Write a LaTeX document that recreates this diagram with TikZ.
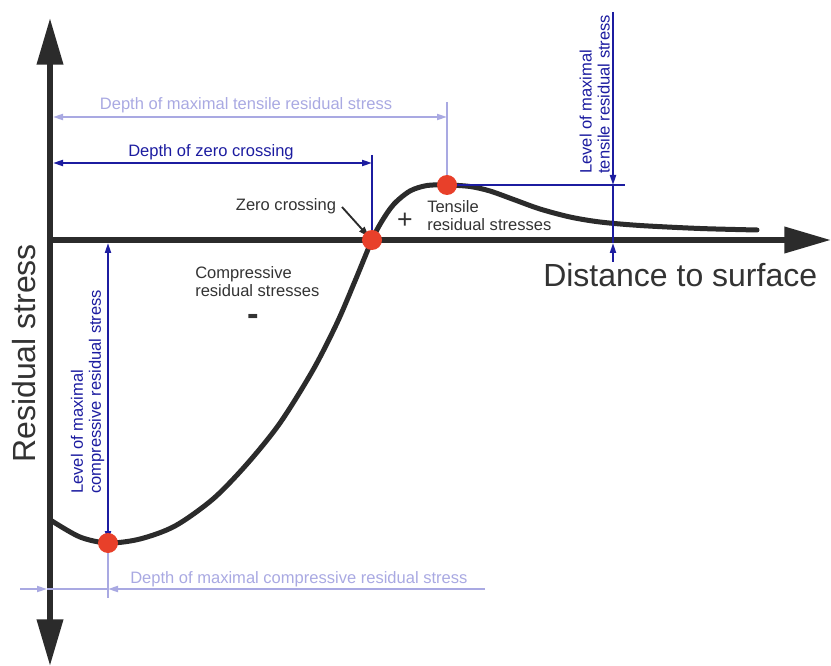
\documentclass[tikz,border=0pt]{standalone}
\usepackage{fontspec}
\setmainfont{Liberation Sans}
\usetikzlibrary{arrows.meta}

\definecolor{axisgray}{HTML}{2B2B2B}
\definecolor{textgray}{HTML}{333333}
\definecolor{dimblue}{HTML}{1C1CA0}
\definecolor{lightdim}{HTML}{A9A9E2}
\definecolor{dotred}{HTML}{E8402A}

\tikzset{
  bigtip/.tip={Triangle[length=35pt,width=19pt]},
  smalltip/.tip={Triangle[length=7.5pt,width=4.5pt]},
  axisline/.style={line width=4.5pt, draw=axisgray},
  curveline/.style={line width=3.75pt, draw=axisgray, line cap=round},
  dimline/.style={line width=1.4pt, draw=dimblue},
  lightline/.style={line width=1.4pt, draw=lightdim},
  lbl/.style={inner sep=0pt, text=textgray, font=\fontsize{12.4}{13.5}\selectfont},
  bluelbl/.style={lbl, text=dimblue},
  lightlbl/.style={lbl, text=lightdim},
  biglbl/.style={inner sep=0pt, text=textgray, font=\fontsize{24}{28}\selectfont},
  dot/.style={fill=dotred}
}

\begin{document}
\begin{tikzpicture}[x=0.75pt, y=-0.75pt]
    \useasboundingbox (0,0) rectangle (831,666);

    % Origine e punti notevoli
    \coordinate (O) at (50,240);
    \coordinate (zc) at (372,240);
    \coordinate (tmax) at (447,185);
    \coordinate (cmax) at (108,543);

    % Assi
    \draw[axisline, bigtip-bigtip] (50,666) -- (50,18);
    \draw[axisline, -bigtip] (47,240) -- (831,240);

    % Curva delle tensioni residue
    \draw[curveline] plot[smooth, tension=0.5] coordinates {
        (52,521) (80,537) (108,543) (140,539) (175,526) (213,499)
        (247,464) (280,423) (313,370) (337,323) (355,281) (372,240)
        (382,221) (394,204) (410,191) (427,185.5) (447,185) (470,186.5)
        (490,191) (515,200) (540,209) (570,217) (600,222) (640,225.5)
        (700,228.5) (757,230)};

    % Profondita della massima tensione di trazione
    \coordinate (ltA) at (53,117);
    \coordinate (ltB) at (447,117);
    \draw[lightline, smalltip-smalltip] (ltA) -- (ltB);
    \draw[lightline] (447,102) -- (tmax);
    \node[lightlbl, anchor=base] (ltlbl) at (246,110) {Depth of maximal tensile residual stress};

    % Profondita dello zero
    \coordinate (zA) at (53,163);
    \coordinate (zB) at (372,163);
    \draw[dimline, smalltip-smalltip] (zA) -- (zB);
    \draw[dimline] (372,155) -- (zc);
    \node[bluelbl, anchor=base] (zlbl) at (211,157) {Depth of zero crossing};

    % Livello della massima trazione
    \coordinate (tt) at (613,12);
    \coordinate (tl) at (613,185);
    \coordinate (tb) at (613,243);
    \coordinate (te) at (613,262);
    \draw[dimline] (tmax) -- (625,185);
    \draw[dimline, -smalltip] (tt) -- (tl);
    \draw[dimline] (tl) -- (tb);
    \draw[dimline, -smalltip] (te) -- (tb);
    \node[bluelbl, rotate=90, anchor=south west, align=left] (tlbl) at (610,174)
        {Level of maximal\\tensile residual stress};

    % Livello della massima compressione
    \coordinate (ct) at (108,243);
    \coordinate (cb) at (108,541);
    \draw[dimline, smalltip-smalltip] (ct) -- (cb);
    \node[bluelbl, rotate=90, anchor=south west, align=left] (clbl) at (104.5,494)
        {Level of maximal\\compressive residual stress};

    % Profondita della massima compressione
    \coordinate (lcA) at (20,589);
    \coordinate (lcB) at (47,589);
    \coordinate (lcC) at (108,589);
    \coordinate (lcD) at (485,589);
    \draw[lightline, -smalltip] (lcA) -- (lcB);
    \draw[lightline] (lcB) -- (lcC);
    \draw[lightline, -smalltip] (lcD) -- (lcC);
    \draw[lightline] (cmax) -- (108,598);
    \node[lightlbl, anchor=base west] (lclbl) at (130,583) {Depth of maximal compressive residual stress};

    % Etichette
    \node[lbl, anchor=base] (zcl) at (286,211) {Zero crossing};
    \draw[line width=1.4pt, draw=axisgray, -{Triangle[length=8pt,width=5pt]}] (342,207) -- (369,237);
    \node[lbl, anchor=west, align=left] (tens) at (427,216) {Tensile\\residual stresses};
    \node[lbl, anchor=west, align=left] (comp) at (195,282) {Compressive\\residual stresses};
    \node[inner sep=0pt, text=textgray, font=\fontsize{20}{22}\selectfont] (plus) at (405,221) {+};
    \node[inner sep=0pt, text=textgray, font=\fontsize{26}{28}\selectfont\bfseries] (minus) at (253,320) {-};
    \node[biglbl, anchor=base west] (xlbl) at (543,287) {Distance to surface};
    \node[biglbl, rotate=90, anchor=base west] (ylbl) at (35,463) {Residual stress};

    % Punti notevoli
    \fill[dot] (cmax) circle[radius=7.5pt];
    \fill[dot] (zc) circle[radius=7.5pt];
    \fill[dot] (tmax) circle[radius=7.5pt];
\end{tikzpicture}
\end{document}
